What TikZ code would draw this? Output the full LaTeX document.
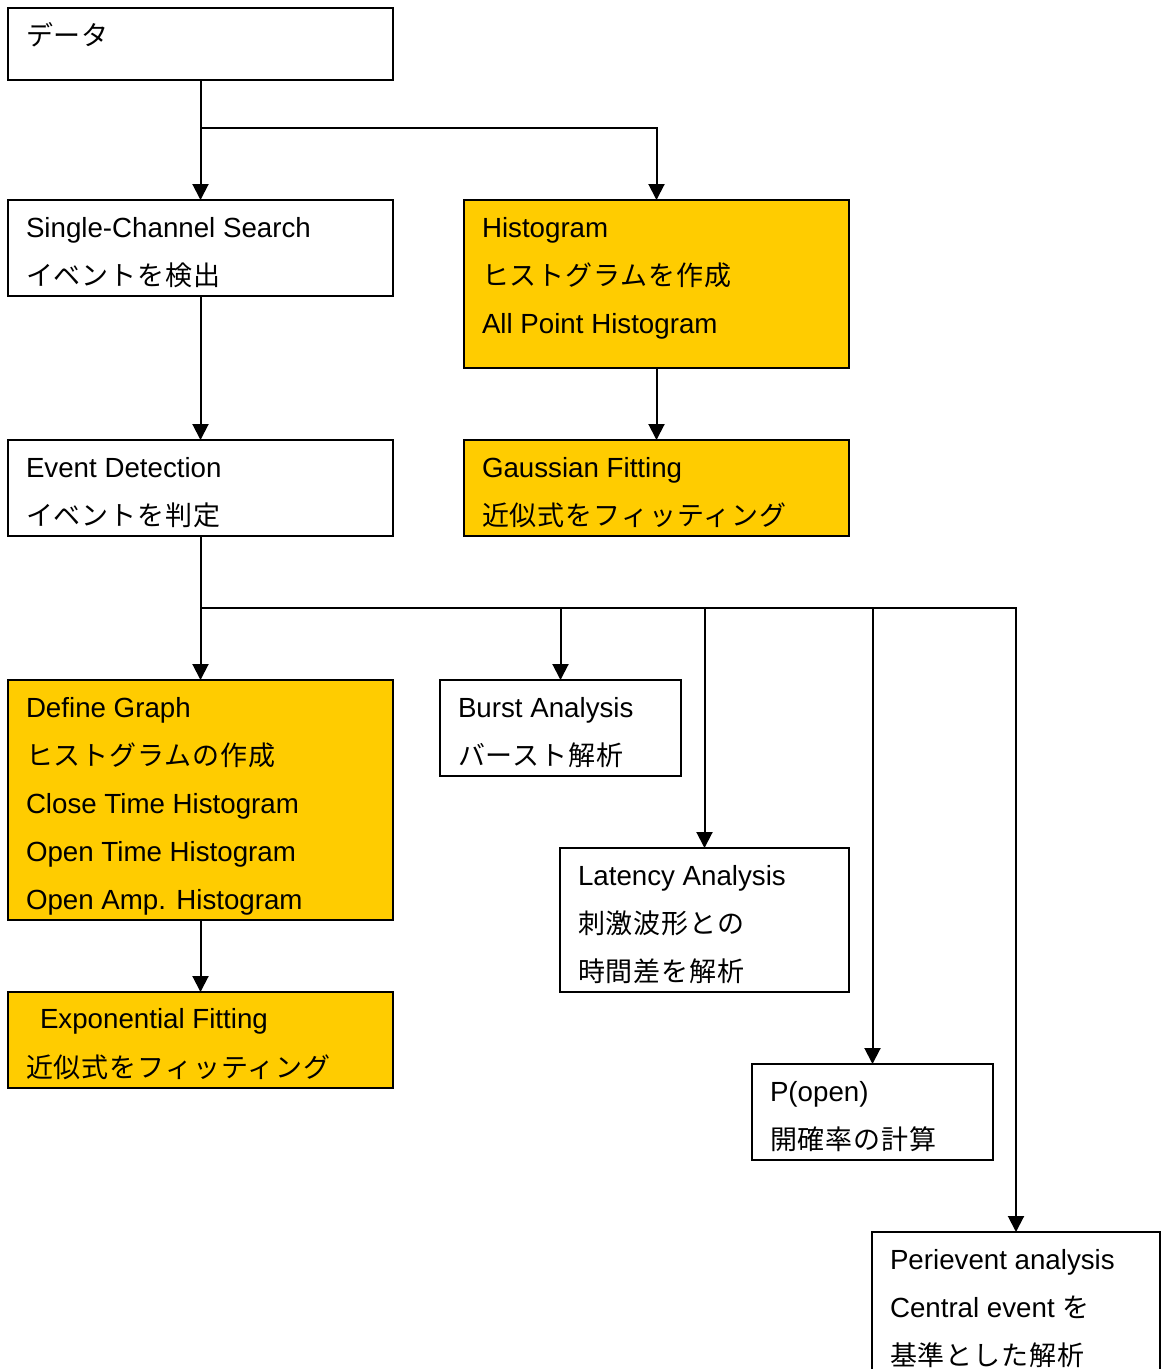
\documentclass[tikz,border=0pt]{standalone}
\usepackage{fontspec}
\setmainfont{Liberation Sans}
\newfontfamily\jp{Noto Sans CJK JP}[LetterSpace=3.5]
\usetikzlibrary{arrows.meta,calc}
\definecolor{gold}{HTML}{FFCC00}
\tikzset{
  box/.style={draw=black, line width=2pt, rectangle, inner sep=0pt, outer sep=0pt},
  goldbox/.style={box, fill=gold},
  txt/.style={anchor=base west, inner sep=0pt, outer sep=0pt, font=\fontsize{27.7}{33}\selectfont},
  jtxt/.style={txt, font=\fontsize{27}{33}\selectfont\jp},
  conn/.style={line width=2pt},
  arr/.style={conn, -{Triangle[width=16pt,length=16pt]}},
}
\begin{document}
\begin{tikzpicture}[x=1pt,y=-1pt]
\useasboundingbox (0,0) rectangle (1161,1369);
% boxes
\node[box, minimum width=385, minimum height=72] (data) at (200.5,44) {};
\node[box, minimum width=385, minimum height=96] (single) at (200.5,248) {};
\node[goldbox, minimum width=385, minimum height=168] (hist) at (656.5,284) {};
\node[box, minimum width=385, minimum height=96] (event) at (200.5,488) {};
\node[goldbox, minimum width=385, minimum height=96] (gauss) at (656.5,488) {};
\node[goldbox, minimum width=385, minimum height=240] (define) at (200.5,800) {};
\node[box, minimum width=241, minimum height=96] (burst) at (560.5,728) {};
\node[box, minimum width=289, minimum height=144] (latency) at (704.5,920) {};
\node[goldbox, minimum width=385, minimum height=96] (expo) at (200.5,1040) {};
\node[box, minimum width=241, minimum height=96] (popen) at (872.5,1112) {};
\node[box, minimum width=288, minimum height=188] (peri) at (1016,1326) {};

% texts
\node[jtxt] (data-t1) at ($(data.north west)+(18,37)$) {データ};

\node[txt] (single-t1) at ($(single.north west)+(18,37)$) {Single-Channel Search};
\node[jtxt] (single-t2) at ($(single.north west)+(18,85)$) {イベントを検出};

\node[txt] (hist-t1) at ($(hist.north west)+(18,37)$) {Histogram};
\node[jtxt] (hist-t2) at ($(hist.north west)+(18,85)$) {ヒストグラムを作成};
\node[txt] (hist-t3) at ($(hist.north west)+(18,133)$) {All Point Histogram};

\node[txt] (event-t1) at ($(event.north west)+(18,37)$) {Event Detection};
\node[jtxt] (event-t2) at ($(event.north west)+(18,85)$) {イベントを判定};

\node[txt] (gauss-t1) at ($(gauss.north west)+(18,37)$) {Gaussian Fitting};
\node[jtxt] (gauss-t2) at ($(gauss.north west)+(18,85)$) {近似式をフィッティング};

\node[txt] (define-t1) at ($(define.north west)+(18,37)$) {Define Graph};
\node[jtxt] (define-t2) at ($(define.north west)+(18,85)$) {ヒストグラムの作成};
\node[txt] (define-t3) at ($(define.north west)+(18,133)$) {Close Time Histogram};
\node[txt] (define-t4) at ($(define.north west)+(18,181)$) {Open Time Histogram};
\node[txt] (define-t5) at ($(define.north west)+(18,229)$) {Open Amp. Histogram};

\node[txt] (burst-t1) at ($(burst.north west)+(18,37)$) {Burst Analysis};
\node[jtxt] (burst-t2) at ($(burst.north west)+(18,85)$) {バースト解析};

\node[txt] (latency-t1) at ($(latency.north west)+(18,37)$) {Latency Analysis};
\node[jtxt] (latency-t2) at ($(latency.north west)+(18,85)$) {刺激波形との};
\node[jtxt] (latency-t3) at ($(latency.north west)+(18,133)$) {時間差を解析};

\node[txt] (expo-t1) at ($(expo.north west)+(32,36)$) {Exponential Fitting};
\node[jtxt] (expo-t2) at ($(expo.north west)+(18,85)$) {近似式をフィッティング};

\node[txt] (popen-t1) at ($(popen.north west)+(18,37)$) {P(open)};
\node[jtxt] (popen-t2) at ($(popen.north west)+(18,85)$) {開確率の計算};

\node[txt] (peri-t1) at ($(peri.north west)+(18,37)$) {Perievent analysis};
\node[txt] (peri-t2) at ($(peri.north west)+(18,85)$) {Central event {\fontsize{27}{33}\selectfont\jp を}};
\node[jtxt] (peri-t3) at ($(peri.north west)+(18,133)$) {基準とした解析};

% connectors
\coordinate (j1) at (200.5,128);
\coordinate (j2) at (200.5,608);
\draw[arr] (data.south) -- (single.north);
\draw[arr] (j1) -| (hist.north);
\draw[arr] (single.south) -- (event.north);
\draw[arr] (hist.south) -- (gauss.north);
\draw[arr] (event.south) -- (define.north);
\draw[arr] (j2) -| (burst.north);
\draw[arr] (j2) -| (latency.north);
\draw[arr] (j2) -| (popen.north);
\draw[arr] (j2) -| (peri.north);
\draw[arr] (define.south) -- (expo.north);
\end{tikzpicture}
\end{document}
